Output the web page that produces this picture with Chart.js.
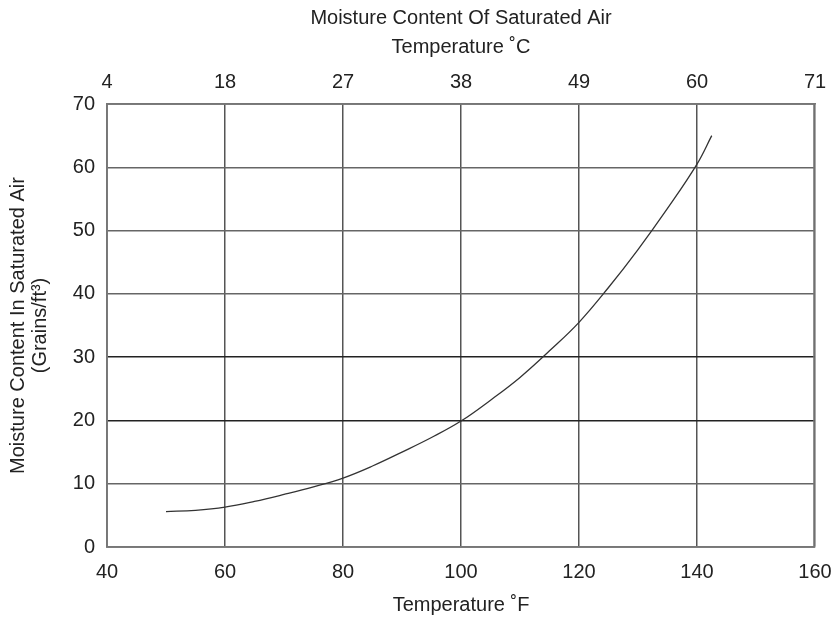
<!DOCTYPE html>
<html>
<head>
<meta charset="utf-8">
<script src="https://cdn.jsdelivr.net/npm/chart.js@4"></script>
<style>
html,body{margin:0;padding:0;background:#fff}
#wrap{width:834px;height:623px}
</style>
</head>
<body>
<div id="wrap"><canvas id="c"></canvas></div>
<script>
// curve
const tempF=[50,55,60,65,70,75,80,85,90,95,100,105,110,115,120,125,130,135,140,142.5];
const grains=[5.6,5.8,6.3,7.2,8.3,9.5,10.9,12.8,15,17.3,19.9,23.2,26.8,31,35.5,41,47,53.5,60.5,65];
const fTicks=[40,60,80,100,120,140,160];
const cLabels=["4","18","27","38","49","60","71"];
const yTicks=[0,10,20,30,40,50,60,70];

const FONT="'Liberation Sans',Arial,sans-serif";
const ink="#222";
const f20={family:FONT,size:20};

// frame around the plot area
const frame={id:"frame",afterDraw(ch){
const a=ch.chartArea,g=ch.ctx;
g.save();g.strokeStyle="#777";g.lineWidth=1.6;
g.strokeRect(a.left,a.top,a.right-a.left-1,a.bottom-a.top);
g.restore();
}};

new Chart(document.getElementById("c"),{
type:"line",
data:{datasets:[{
data:tempF.map((t,i)=>({x:t,y:grains[i]})),
borderColor:"#333",borderWidth:1.3,pointRadius:0,tension:0.4,fill:false
}]},
options:{
responsive:true,maintainAspectRatio:false,animation:false,
layout:{padding:{left:0,right:19,top:4,bottom:2}},
plugins:{legend:{display:false},tooltip:{enabled:false}},
scales:{
x:{type:"linear",position:"bottom",min:40,max:160,
afterBuildTicks:s=>{s.ticks=fTicks.map(v=>({value:v}));},
ticks:{color:ink,font:f20,padding:13},
grid:{color:"#555",lineWidth:1.5,drawTicks:false},
border:{color:"#777",width:1.6},
title:{display:true,text:"Temperature ˚F",color:ink,font:f20,padding:{top:12}},
afterFit:s=>{s.height=74;s.paddingRight=0;}
},
x2:{type:"linear",position:"top",min:40,max:160,
afterBuildTicks:s=>{s.ticks=fTicks.map(v=>({value:v}));},
ticks:{color:ink,font:f20,padding:10,
callback:(v)=>cLabels[fTicks.indexOf(v)]},
grid:{display:false,drawTicks:false},
border:{color:"#777",width:1.6},
title:{display:true,text:["Moisture Content Of Saturated Air","Temperature ˚C"],color:ink,
font:{family:FONT,size:20,lineHeight:1.45},padding:{top:0,bottom:6}},
afterFit:s=>{s.height=100;s.paddingRight=0;}
},
y:{type:"linear",min:0,max:70,
afterBuildTicks:s=>{s.ticks=yTicks.map(v=>({value:v}));},
ticks:{color:ink,font:f20,padding:12},
grid:{color:c=>(c.tick&&(c.tick.value===20||c.tick.value===30))?"#222":"#666",lineWidth:1.5,drawTicks:false},
border:{color:"#777",width:1.6},
title:{display:true,text:["Moisture Content In Saturated Air","(Grains/ft³)"],color:ink,
font:{family:FONT,size:20,lineHeight:1.1},padding:{top:7,bottom:6}},
afterFit:s=>{s.width=107;}
}
}
},
plugins:[frame]
});
</script>
</body>
</html>
